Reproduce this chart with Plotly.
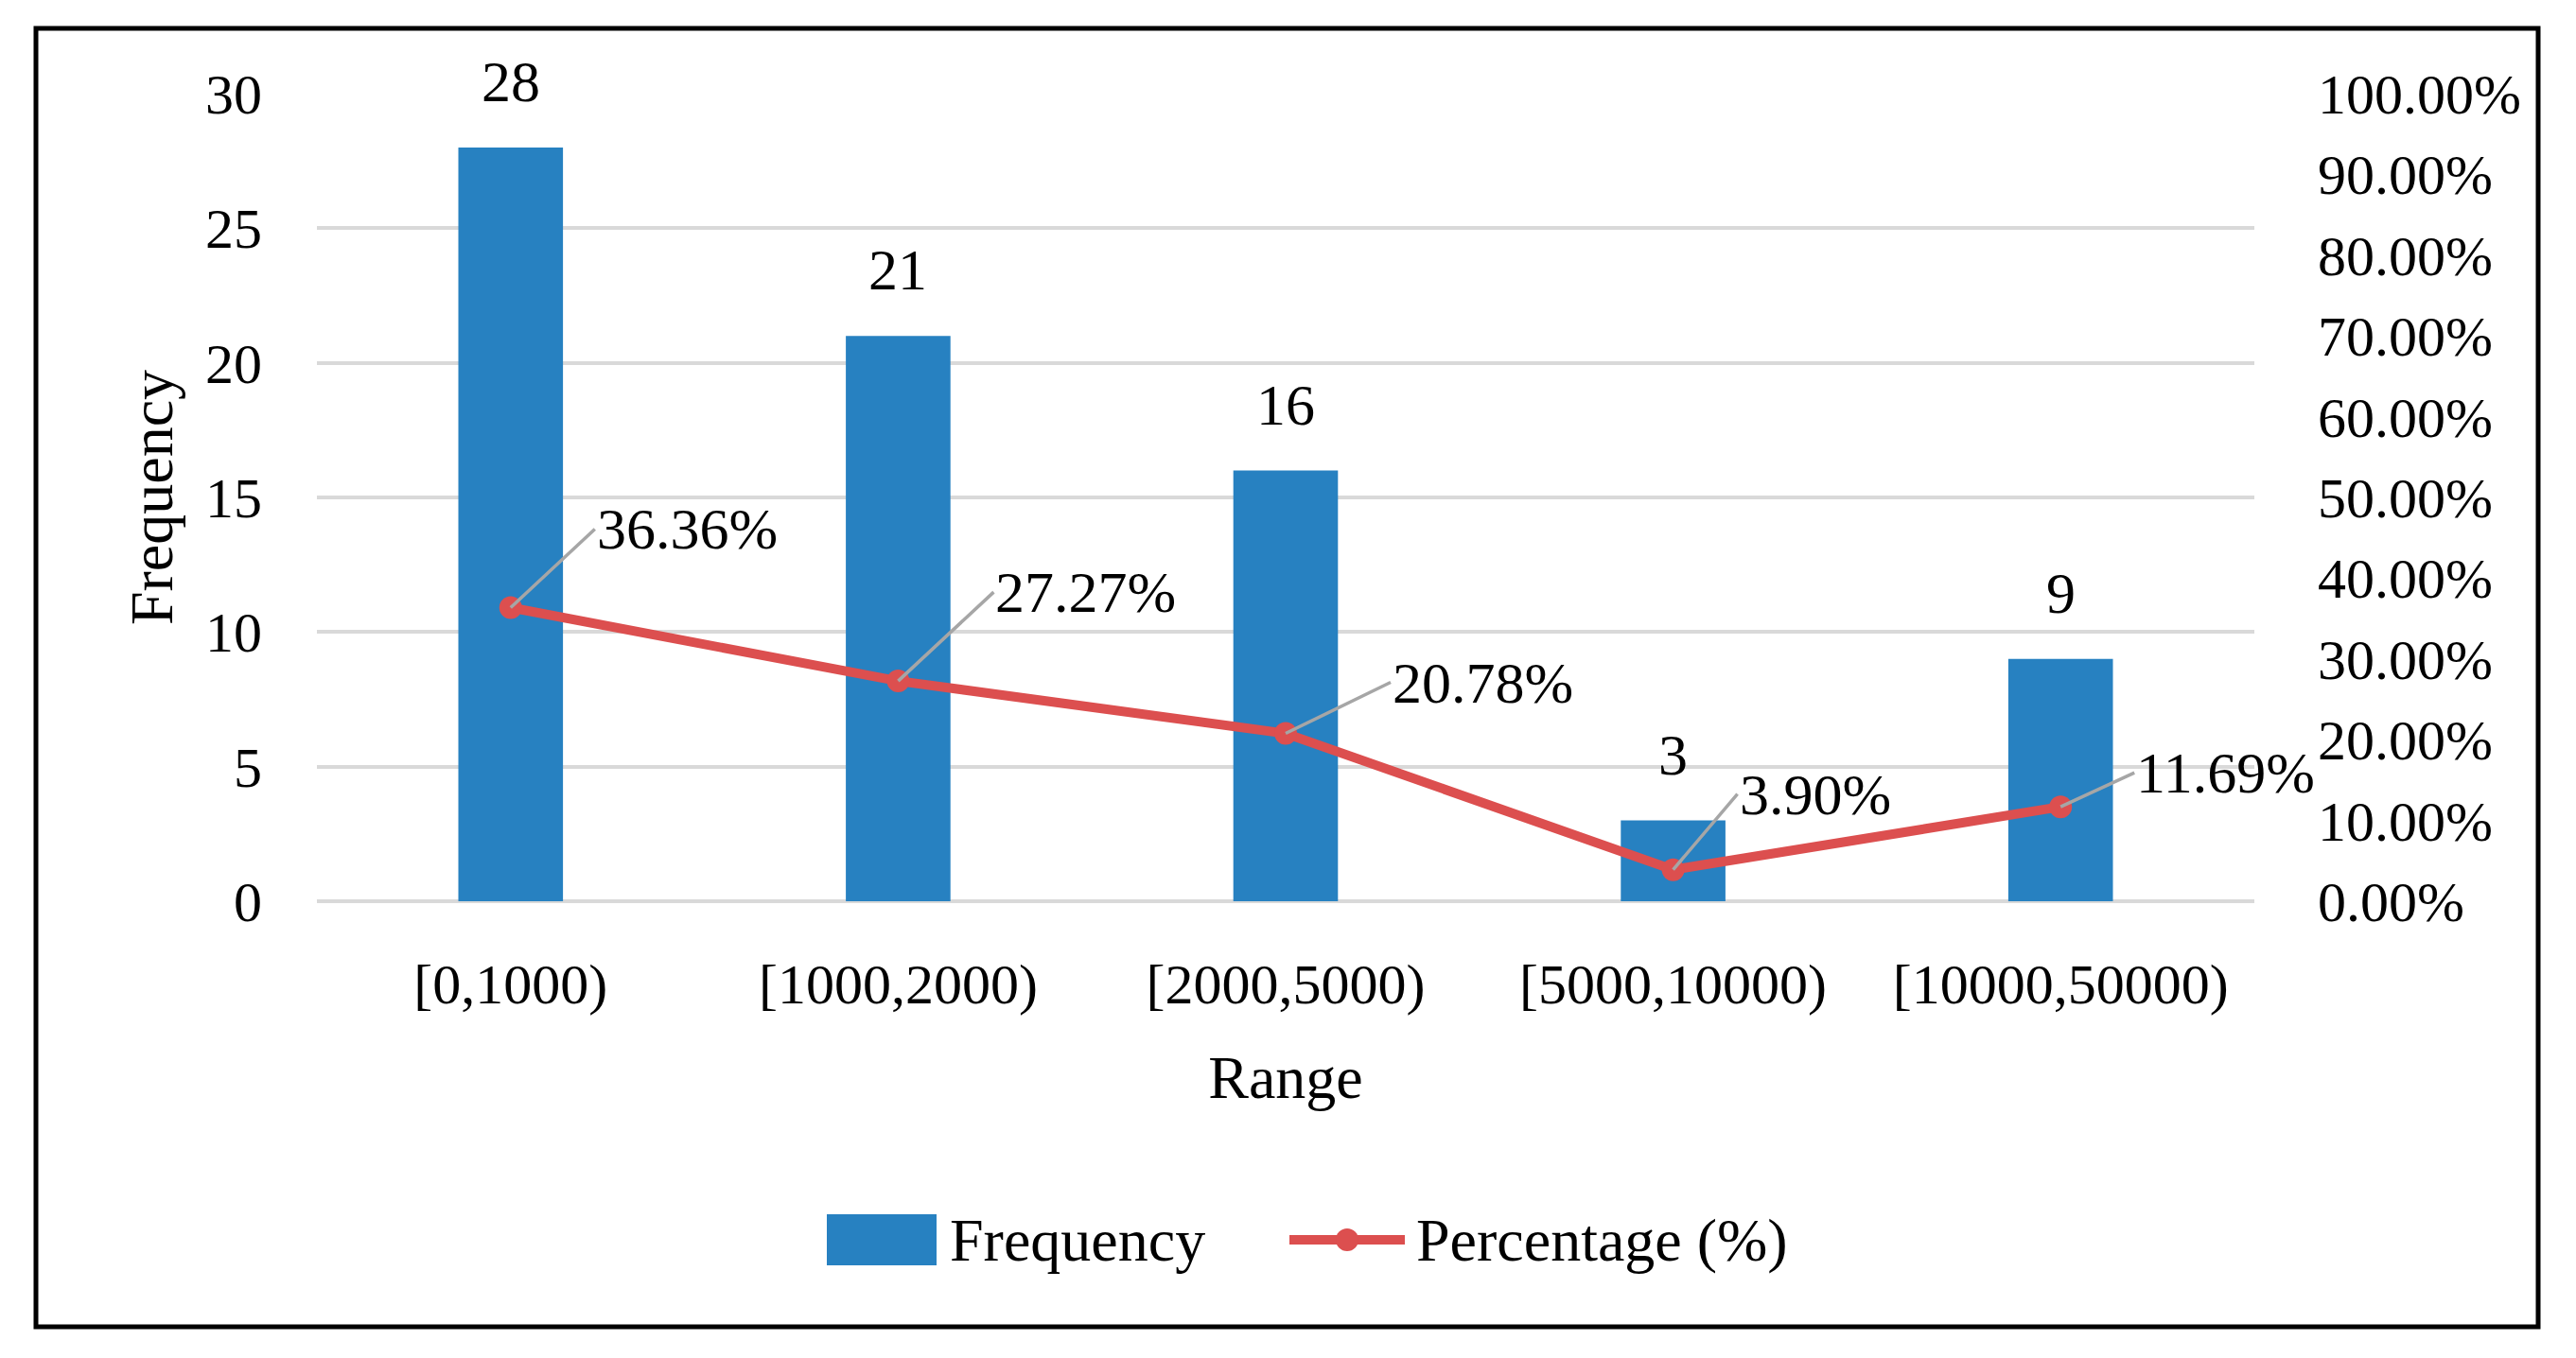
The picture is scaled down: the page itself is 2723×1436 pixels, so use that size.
import plotly.graph_objects as go

categories = ["[0,1000)", "[1000,2000)", "[2000,5000)", "[5000,10000)", "[10000,50000)"]
frequency = [28, 21, 16, 3, 9]
percentage = [36.36, 27.27, 20.78, 3.90, 11.69]
legend_names = ["Frequency", "Percentage (%)"]

# label placement offsets (pixels) for percentage labels
pct_label_dx = [89, 101, 111, 68, 78]
pct_label_dy = [-83, -94, -54, -80, -36]

W, H = 2723, 1436
L, R, T, B = 327, 348, 91, 491
PW, PH = W - L - R, H - T - B
FONT = "Liberation Serif"
BAR_COLOR = "#2781C1"
LINE_COLOR = "#DC4F4F"


def px(xp):
    return (xp - L) / PW


def py(yp):
    return (H - B - yp) / PH


fig = go.Figure()
fig.add_trace(go.Bar(
    x=categories, y=frequency, name=legend_names[0],
    marker=dict(color=BAR_COLOR, line=dict(width=0)),
    width=0.27, yaxis="y", showlegend=False,
))
fig.add_trace(go.Scatter(
    x=categories, y=percentage, name=legend_names[1], yaxis="y2",
    mode="lines+markers", showlegend=False,
    line=dict(color=LINE_COLOR, width=10),
    marker=dict(color=LINE_COLOR, size=24, symbol="circle"),
))

annotations = []
for c, f in zip(categories, frequency):
    annotations.append(dict(
        x=c, y=f, xref="x", yref="y", text=str(f), showarrow=False,
        yanchor="bottom", yshift=34, font=dict(family=FONT, size=62, color="#000000"),
    ))
for c, p, dx, dy in zip(categories, percentage, pct_label_dx, pct_label_dy):
    annotations.append(dict(
        x=c, y=p, xref="x", yref="y2", text=f"{p:.2f}%",
        showarrow=True, arrowhead=0, arrowwidth=3.5, arrowcolor="#A6A6A6",
        ax=dx, ay=dy, xanchor="left", yanchor="middle",
        font=dict(family=FONT, size=62, color="#000000"),
    ))

# custom legend (figure pixel coords)
LEG_Y = 1303
annotations.append(dict(
    xref="paper", yref="paper", x=px(994), y=py(LEG_Y), text=legend_names[0],
    showarrow=False, xanchor="left", yanchor="middle",
    font=dict(family=FONT, size=64, color="#000000"),
))
annotations.append(dict(
    xref="paper", yref="paper", x=px(1487), y=py(LEG_Y), text=legend_names[1],
    showarrow=False, xanchor="left", yanchor="middle",
    font=dict(family=FONT, size=64, color="#000000"),
))

shapes = [
    dict(type="rect", xref="paper", yref="paper",
         x0=px(30), x1=px(2675), y0=py(1395), y1=py(22),
         line=dict(color="#000000", width=5), fillcolor="rgba(0,0,0,0)", layer="below"),
    dict(type="rect", xref="paper", yref="paper",
         x0=px(866), x1=px(982), y0=py(LEG_Y + 27), y1=py(LEG_Y - 27),
         line=dict(width=0), fillcolor=BAR_COLOR),
    dict(type="line", xref="paper", yref="paper",
         x0=px(1355), x1=px(1477), y0=py(LEG_Y), y1=py(LEG_Y),
         line=dict(color=LINE_COLOR, width=10)),
    dict(type="circle", xref="paper", yref="paper",
         x0=px(1404), x1=px(1428), y0=py(LEG_Y + 12), y1=py(LEG_Y - 12),
         line=dict(width=0), fillcolor=LINE_COLOR),
]

fig.update_layout(
    width=W, height=H,
    margin=dict(l=L, r=R, t=T, b=B, pad=0),
    paper_bgcolor="white", plot_bgcolor="white",
    font=dict(family=FONT, size=60, color="#000000"),
    showlegend=False,
    xaxis=dict(
        range=[-0.5, 4.5],
        showgrid=False, showline=False, ticks="", zeroline=False,
        tickfont=dict(family=FONT, size=60), ticklabelstandoff=47,
        title=dict(text="Range", font=dict(family=FONT, size=64), standoff=43),
    ),
    yaxis=dict(
        range=[0, 30], dtick=5, showgrid=True, gridcolor="#D9D9D9", gridwidth=4,
        zeroline=True, zerolinecolor="#D9D9D9", zerolinewidth=4,
        showline=False, ticks="", tickfont=dict(family=FONT, size=60),
        ticklabelstandoff=57,
        title=dict(text="Frequency", font=dict(family=FONT, size=64), standoff=13),
    ),
    yaxis2=dict(
        range=[0, 100], dtick=10, overlaying="y", side="right",
        showgrid=False, zeroline=False, showline=False, ticks="",
        tickformat=".2f", ticksuffix="%", tickfont=dict(family=FONT, size=60),
        ticklabelstandoff=66,
    ),
    annotations=annotations,
    shapes=shapes,
)

fig.write_html("out.html")
